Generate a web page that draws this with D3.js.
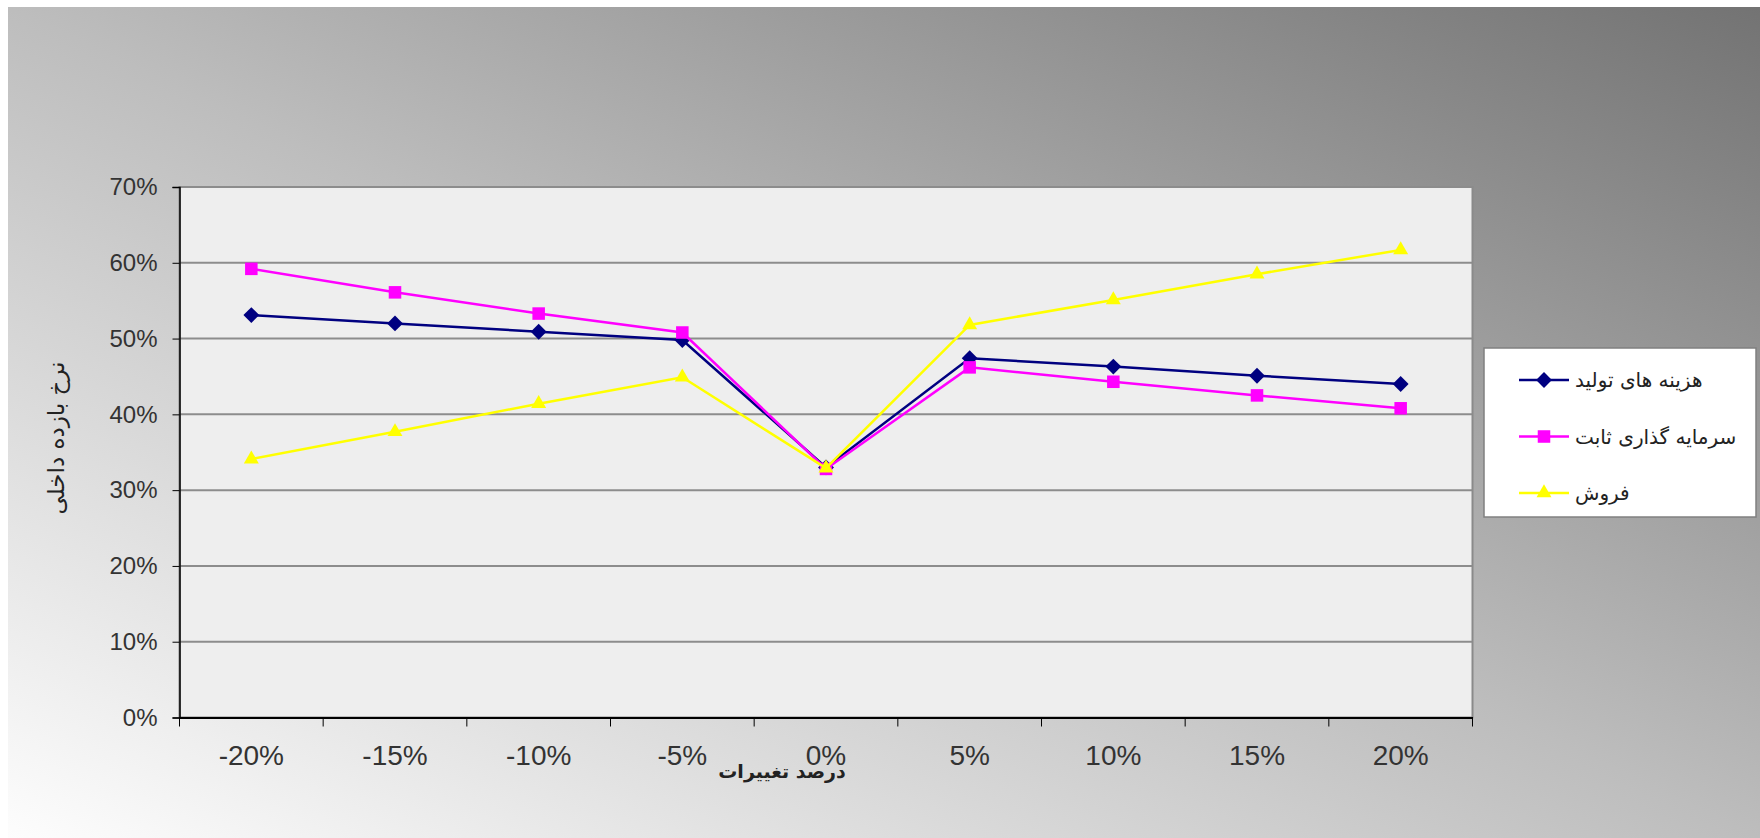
<!DOCTYPE html>
<html>
<head>
<meta charset="utf-8">
<script src="https://cdn.jsdelivr.net/npm/d3@7"></script>
<style>
    body { margin: 0; background: #fff; }
    svg { display: block; }
</style>
</head>
<body>
<div id="chart"></div>
<script>
// داده ها
var categories = ["-20%", "-15%", "-10%", "-5%", "0%", "5%", "10%", "15%", "20%"];
var costValues = [0.531, 0.520, 0.509, 0.498, 0.330, 0.474, 0.463, 0.451, 0.440];
var investValues = [0.592, 0.561, 0.533, 0.508, 0.328, 0.462, 0.443, 0.425, 0.408];
var salesValues = [0.341, 0.377, 0.414, 0.449, 0.329, 0.518, 0.551, 0.585, 0.617];
var seriesNames = ["هزینه های تولید", "سرمایه گذاری ثابت", "فروش"];
var yTicks = [0, 0.1, 0.2, 0.3, 0.4, 0.5, 0.6, 0.7];
var xTitle = "درصد تغییرات";
var yTitle = "نرخ بازده داخلی";

var width = 1760;
var height = 838;
var padding = {top: 187, right: 287.5, left: 179.5, bottom: 120.5};

var series = [
    {name: seriesNames[0], values: costValues, color: "#000080", symbol: d3.symbolDiamond2, size: 160},
    {name: seriesNames[1], values: investValues, color: "#ff00ff", symbol: d3.symbolSquare2, size: 200},
    {name: seriesNames[2], values: salesValues, color: "#ffff00", symbol: d3.symbolTriangle2, size: 160}
];

var svg = d3.select("#chart").append("svg").attr("width", width).attr("height", height);

// پس زمینه
var grad = svg.append("defs").append("linearGradient")
    .attr("id", "bg")
    .attr("x1", 0).attr("y1", 1).attr("x2", 1).attr("y2", 0);
grad.append("stop").attr("offset", "0%").attr("stop-color", "#fdfdfd");
grad.append("stop").attr("offset", "50%").attr("stop-color", "#bdbdbd");
grad.append("stop").attr("offset", "100%").attr("stop-color", "#737373");

svg.append("rect")
    .attr("x", 8).attr("y", 7)
    .attr("width", width - 8).attr("height", height - 7)
    .attr("fill", "url(#bg)");

var x = d3.scaleBand()
    .domain(categories)
    .range([padding.left, width - padding.right])
    .padding(0);

var y = d3.scaleLinear()
    .domain([0, 0.7])
    .range([height - padding.bottom, padding.top]);

// ناحیه رسم
svg.append("rect")
    .attr("x", padding.left)
    .attr("y", padding.top)
    .attr("width", width - padding.right - padding.left)
    .attr("height", height - padding.bottom - padding.top)
    .attr("fill", "#eeeeee")
    .attr("stroke", "#8a8a8a")
    .attr("stroke-width", 2);

// خطوط شبکه
svg.selectAll(".grid")
    .data(yTicks.slice(1))
    .enter()
    .append("line")
    .attr("class", "grid")
    .attr("x1", padding.left)
    .attr("x2", width - padding.right)
    .attr("y1", function (d) { return y(d); })
    .attr("y2", function (d) { return y(d); })
    .attr("stroke", "#8c8c8c")
    .attr("stroke-width", 2);

// محور y
var yAxis = svg.append("g")
    .attr("transform", "translate(" + padding.left + ",0)")
    .call(d3.axisLeft(y).tickValues(yTicks).tickFormat(d3.format(".0%")).tickSize(7).tickPadding(15));
yAxis.select(".domain").attr("stroke", "#000").attr("stroke-width", 1.5);
yAxis.selectAll(".tick line").attr("stroke", "#000");
yAxis.selectAll("text")
    .attr("fill", "#333")
    .attr("font-family", "'Liberation Sans', Arial, sans-serif")
    .attr("font-size", "24px");

// محور x
var xAxis = svg.append("g")
    .attr("transform", "translate(0," + (height - padding.bottom) + ")")
    .call(d3.axisBottom(x).tickSize(0).tickSizeOuter(0));
xAxis.select(".domain").attr("stroke", "#000").attr("stroke-width", 2);
xAxis.selectAll("text")
    .attr("fill", "#333")
    .attr("font-family", "'Liberation Sans', Arial, sans-serif")
    .attr("font-size", "28px")
    .attr("y", 38)
    .attr("dy", null)
    .attr("dominant-baseline", "central");

// تیک ها روی مرز دسته ها
var bounds = categories.map(function (c) { return x(c); }).concat([x.range()[1]]);
xAxis.selectAll(".bound")
    .data(bounds)
    .enter()
    .append("line")
    .attr("class", "bound")
    .attr("x1", function (d) { return d; })
    .attr("x2", function (d) { return d; })
    .attr("y1", 0)
    .attr("y2", 9)
    .attr("stroke", "#000");

// خطوط سری ها
var line = d3.line()
    .x(function (d, i) { return x(categories[i]) + x.bandwidth() / 2; })
    .y(function (d) { return y(d); });

series.forEach(function (s, k) {
    svg.append("path")
        .datum(s.values)
        .attr("fill", "none")
        .attr("stroke", s.color)
        .attr("stroke-width", 2.5)
        .attr("d", line);

    svg.selectAll(".mark" + k)
        .data(s.values)
        .enter()
        .append("path")
        .attr("class", "mark" + k)
        .attr("transform", function (d, i) {
            return "translate(" + (x(categories[i]) + x.bandwidth() / 2) + "," + y(d) + ")";
        })
        .attr("d", d3.symbol().type(s.symbol).size(s.size))
        .attr("fill", s.color);
});

// عنوان محورها
svg.append("text")
    .attr("x", 782)
    .attr("y", 771)
    .attr("text-anchor", "middle")
    .attr("dominant-baseline", "central")
    .attr("font-family", "'DejaVu Sans', sans-serif")
    .attr("font-weight", "bold")
    .attr("font-size", "19px")
    .attr("fill", "#222")
    .text(xTitle);

svg.append("text")
    .attr("transform", "translate(56,438) rotate(-90)")
    .attr("text-anchor", "middle")
    .attr("dominant-baseline", "central")
    .attr("font-family", "'DejaVu Sans', sans-serif")
    .attr("font-size", "23px")
    .attr("fill", "#222")
    .text(yTitle);

// راهنما
var legend = svg.append("g").attr("transform", "translate(1484,348)");
legend.append("rect")
    .attr("width", 272)
    .attr("height", 169)
    .attr("fill", "#fff")
    .attr("stroke", "#808080")
    .attr("stroke-width", 1.5);

var item = legend.selectAll(".item")
    .data(series)
    .enter()
    .append("g")
    .attr("class", "item")
    .attr("transform", function (d, i) { return "translate(0," + (32 + i * 56.5) + ")"; });

item.append("line")
    .attr("x1", 35).attr("x2", 85)
    .attr("y1", 0).attr("y2", 0)
    .attr("stroke", function (d) { return d.color; })
    .attr("stroke-width", 2.5);

item.append("path")
    .attr("transform", "translate(60,0)")
    .attr("d", function (d) { return d3.symbol().type(d.symbol).size(d.size)(); })
    .attr("fill", function (d) { return d.color; });

item.append("text")
    .attr("x", 91)
    .attr("y", 0)
    .attr("dominant-baseline", "central")
    .attr("font-family", "'DejaVu Sans', sans-serif")
    .attr("font-size", "20px")
    .attr("fill", "#222")
    .text(function (d) { return d.name; });
</script>
</body>
</html>
